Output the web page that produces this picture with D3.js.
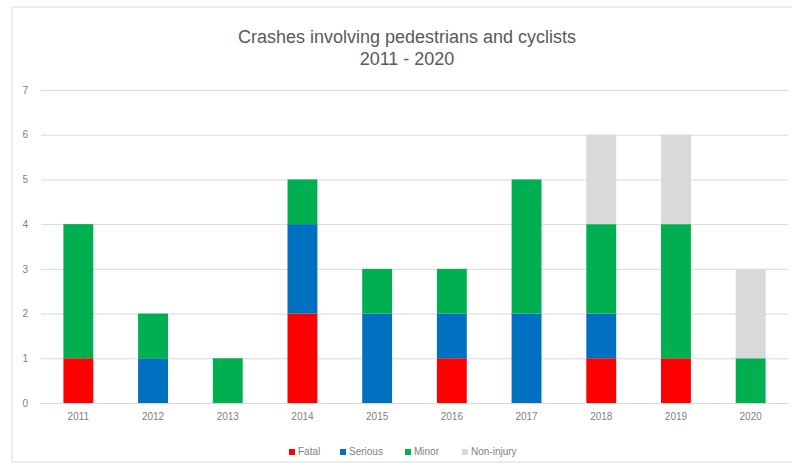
<!DOCTYPE html>
<html><head><meta charset="utf-8">
<script src="https://cdn.jsdelivr.net/npm/d3@7"></script>
<style>body{margin:0;background:#fff}svg{display:block}</style>
</head><body>
<script>
const years = ["2011","2012","2013","2014","2015","2016","2017","2018","2019","2020"];
const fatal     = [1,0,0,2,0,1,0,1,1,0];
const serious   = [0,1,0,2,2,1,2,1,0,0];
const minor     = [3,1,1,1,1,1,3,2,3,1];
const nonInjury = [0,0,0,0,0,0,0,2,2,2];
const seriesNames = ["Fatal","Serious","Minor","Non-injury"];
const colors = ["#FF0000","#0070C0","#00B050","#D9D9D9"];
const yTicks = [0,1,2,3,4,5,6,7];

const W=792,H=468;
const svg=d3.select("body").append("svg").attr("width",W).attr("height",H);
svg.append("rect").attr("x",12).attr("y",7).attr("width",W).attr("height",455)
  .attr("fill","#fff").attr("stroke","#d9d9d9");

const x=d3.scaleBand().domain(years).range([41,788]).paddingInner(0.6).paddingOuter(0.3);
const y=d3.scaleLinear().domain([0,7]).range([403,90]);

const font="Liberation Sans, Arial, sans-serif";
svg.append("text").attr("x",407).attr("y",43).attr("text-anchor","middle")
  .attr("font-family",font).attr("font-size",18).attr("fill","#595959")
  .text("Crashes involving pedestrians and cyclists");
svg.append("text").attr("x",407).attr("y",65).attr("text-anchor","middle")
  .attr("font-family",font).attr("font-size",18).attr("fill","#595959")
  .text("2011 - 2020");

const yAxis=d3.axisLeft(y).tickValues(yTicks).tickFormat(d3.format("d")).tickSize(-(788-41)).tickPadding(13);
const gy=svg.append("g").attr("transform","translate(41,0)").call(yAxis);
gy.select(".domain").remove();
gy.selectAll(".tick line").attr("stroke","#d9d9d9");
gy.selectAll(".tick text").attr("font-family",font).attr("font-size",10).attr("fill","#7f7f7f");

const rows=years.map((yr,i)=>({year:yr,"Fatal":fatal[i],"Serious":serious[i],"Minor":minor[i],"Non-injury":nonInjury[i]}));
const stacked=d3.stack().keys(seriesNames)(rows);
svg.append("g").selectAll("g").data(stacked).join("g")
  .attr("fill",(d,i)=>colors[i])
  .selectAll("rect").data(d=>d).join("rect")
  .attr("x",d=>x(d.data.year)).attr("width",x.bandwidth())
  .attr("y",d=>y(d[1])).attr("height",d=>y(d[0])-y(d[1]));

const xAxis=d3.axisBottom(x).tickSize(0).tickPadding(10);
const gx=svg.append("g").attr("transform","translate(0,403)").call(xAxis);
gx.select(".domain").attr("stroke","#d9d9d9");
gx.selectAll(".tick text").attr("font-family",font).attr("font-size",10).attr("fill","#7f7f7f");

const legX=[292,343,408,465];
const lg=svg.append("g");
seriesNames.forEach((n,i)=>{
  lg.append("rect").attr("x",legX[i]-3).attr("y",449).attr("width",6).attr("height",6).attr("fill",colors[i]);
  lg.append("text").attr("x",legX[i]+6).attr("y",455).attr("font-family",font).attr("font-size",10)
    .attr("fill","#7f7f7f").text(n);
});
</script>
</body></html>
